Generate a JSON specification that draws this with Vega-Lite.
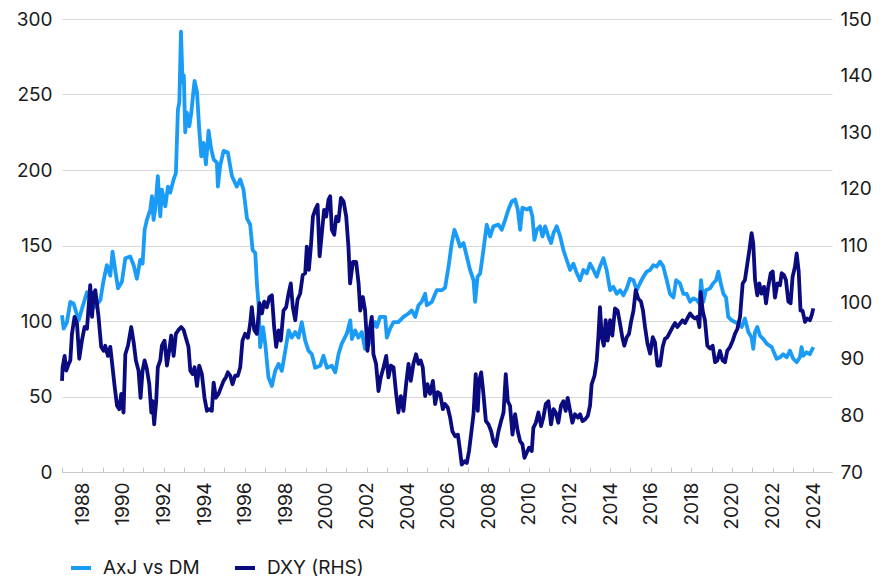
{
  "$schema": "https://vega.github.io/schema/vega-lite/v6.json",
  "width": 770,
  "height": 453,
  "autosize": {"type": "none"},
  "padding": {"left": 62, "top": 19, "right": 55, "bottom": 106},
  "background": "white",
  "config": {
    "font": "Inter",
    "view": {"stroke": null},
    "axis": {"labelFont": "Inter", "labelFontSize": 19, "labelColor": "#1a1a1a", "title": null},
    "legend": {"labelFont": "Inter", "labelFontSize": 19, "labelColor": "#1a1a1a"}
  },
  "datasets": {
    "axj": [
      {"t":1987.0,"v":103.8},{"t":1987.08,"v":95},{"t":1987.24,"v":99},{"t":1987.41,"v":112.7},{"t":1987.57,"v":111.6},{"t":1987.82,"v":100.4},{"t":1987.98,"v":108},{"t":1988.23,"v":119},{"t":1988.39,"v":115},{"t":1988.64,"v":109.3},{"t":1988.89,"v":114},{"t":1989.05,"v":127},{"t":1989.21,"v":137},{"t":1989.38,"v":130},{"t":1989.49,"v":146},{"t":1989.62,"v":134},{"t":1989.76,"v":121.6},{"t":1989.95,"v":126},{"t":1990.12,"v":141.6},{"t":1990.36,"v":142.7},{"t":1990.53,"v":137},{"t":1990.69,"v":128},{"t":1990.85,"v":140.4},{"t":1990.97,"v":138},{"t":1991.07,"v":160.4},{"t":1991.18,"v":167},{"t":1991.35,"v":173.8},{"t":1991.43,"v":182.7},{"t":1991.51,"v":167},{"t":1991.59,"v":173.8},{"t":1991.72,"v":196},{"t":1991.84,"v":169.3},{"t":1991.92,"v":187},{"t":1992.09,"v":176},{"t":1992.22,"v":189},{"t":1992.33,"v":185},{"t":1992.5,"v":193.8},{"t":1992.61,"v":198},{"t":1992.71,"v":240},{"t":1992.78,"v":245},{"t":1992.86,"v":291.6},{"t":1992.94,"v":258},{"t":1993.0,"v":262.7},{"t":1993.07,"v":225},{"t":1993.15,"v":238},{"t":1993.27,"v":229},{"t":1993.37,"v":238},{"t":1993.45,"v":249},{"t":1993.53,"v":259},{"t":1993.65,"v":251.6},{"t":1993.76,"v":227},{"t":1993.86,"v":209},{"t":1993.97,"v":218},{"t":1994.09,"v":203.8},{"t":1994.22,"v":226},{"t":1994.35,"v":213.8},{"t":1994.47,"v":207},{"t":1994.63,"v":204.9},{"t":1994.68,"v":189},{"t":1994.79,"v":202.7},{"t":1994.96,"v":212.7},{"t":1995.17,"v":211.6},{"t":1995.37,"v":196},{"t":1995.61,"v":189},{"t":1995.78,"v":193.8},{"t":1995.94,"v":187},{"t":1996.11,"v":168},{"t":1996.27,"v":163.8},{"t":1996.39,"v":147},{"t":1996.52,"v":145},{"t":1996.6,"v":125},{"t":1996.68,"v":111.6},{"t":1996.76,"v":82.7},{"t":1996.9,"v":96},{"t":1997.01,"v":85},{"t":1997.17,"v":62.7},{"t":1997.34,"v":57},{"t":1997.5,"v":67},{"t":1997.67,"v":71.6},{"t":1997.83,"v":67},{"t":1998.0,"v":80.4},{"t":1998.16,"v":93.8},{"t":1998.32,"v":89},{"t":1998.49,"v":92.7},{"t":1998.65,"v":89},{"t":1998.81,"v":99.3},{"t":1998.98,"v":87},{"t":1999.14,"v":80.4},{"t":1999.31,"v":78},{"t":1999.47,"v":69},{"t":1999.72,"v":70.4},{"t":1999.88,"v":77},{"t":2000.05,"v":69},{"t":2000.29,"v":70.4},{"t":2000.46,"v":66},{"t":2000.62,"v":78},{"t":2000.78,"v":85},{"t":2001.03,"v":91.6},{"t":2001.2,"v":100.4},{"t":2001.28,"v":88},{"t":2001.44,"v":93.8},{"t":2001.6,"v":89},{"t":2001.77,"v":92.7},{"t":2001.93,"v":81.6},{"t":2002.1,"v":83.8},{"t":2002.26,"v":95},{"t":2002.43,"v":99.3},{"t":2002.51,"v":96},{"t":2002.67,"v":102.7},{"t":2002.92,"v":102.7},{"t":2003.0,"v":89},{"t":2003.16,"v":95},{"t":2003.33,"v":99.3},{"t":2003.57,"v":99.3},{"t":2003.82,"v":102.7},{"t":2004.07,"v":105},{"t":2004.23,"v":107},{"t":2004.4,"v":102.7},{"t":2004.56,"v":110.4},{"t":2004.72,"v":112.7},{"t":2004.89,"v":118},{"t":2004.97,"v":110.4},{"t":2005.22,"v":112.7},{"t":2005.46,"v":120.4},{"t":2005.71,"v":120.4},{"t":2005.87,"v":122},{"t":2006.04,"v":136},{"t":2006.2,"v":151.6},{"t":2006.33,"v":160.4},{"t":2006.45,"v":156},{"t":2006.61,"v":149.3},{"t":2006.78,"v":151.6},{"t":2006.94,"v":142.7},{"t":2007.1,"v":133.8},{"t":2007.27,"v":127},{"t":2007.35,"v":112.7},{"t":2007.47,"v":129.3},{"t":2007.6,"v":131.6},{"t":2007.76,"v":147},{"t":2007.92,"v":163.8},{"t":2008.09,"v":156},{"t":2008.25,"v":162.7},{"t":2008.5,"v":163.8},{"t":2008.66,"v":160.4},{"t":2008.83,"v":167},{"t":2008.99,"v":173.8},{"t":2009.16,"v":179.3},{"t":2009.32,"v":180.4},{"t":2009.45,"v":173.8},{"t":2009.57,"v":160.4},{"t":2009.68,"v":175},{"t":2009.89,"v":173.8},{"t":2010.06,"v":175},{"t":2010.17,"v":169.3},{"t":2010.27,"v":153.8},{"t":2010.39,"v":160.4},{"t":2010.55,"v":162.7},{"t":2010.67,"v":156},{"t":2010.8,"v":162.7},{"t":2010.96,"v":156},{"t":2011.09,"v":151.6},{"t":2011.21,"v":158.2},{"t":2011.37,"v":162.7},{"t":2011.54,"v":156},{"t":2011.7,"v":147},{"t":2011.86,"v":140.4},{"t":2012.03,"v":133.8},{"t":2012.19,"v":138},{"t":2012.36,"v":131.6},{"t":2012.52,"v":127},{"t":2012.68,"v":133.8},{"t":2012.85,"v":131.6},{"t":2013.01,"v":138},{"t":2013.18,"v":133.8},{"t":2013.34,"v":129.3},{"t":2013.5,"v":136},{"t":2013.67,"v":141.6},{"t":2013.83,"v":133.8},{"t":2014.0,"v":120.4},{"t":2014.16,"v":122.7},{"t":2014.33,"v":118},{"t":2014.49,"v":120.4},{"t":2014.65,"v":117},{"t":2014.82,"v":121.6},{"t":2014.98,"v":128},{"t":2015.15,"v":127},{"t":2015.31,"v":120.4},{"t":2015.47,"v":125},{"t":2015.64,"v":129.3},{"t":2015.8,"v":132.7},{"t":2015.97,"v":133.8},{"t":2016.13,"v":137},{"t":2016.29,"v":136},{"t":2016.46,"v":139.3},{"t":2016.62,"v":136},{"t":2016.79,"v":127},{"t":2016.95,"v":118},{"t":2017.12,"v":115.6},{"t":2017.25,"v":127},{"t":2017.44,"v":125},{"t":2017.61,"v":118},{"t":2017.77,"v":118},{"t":2017.94,"v":112.7},{"t":2018.1,"v":115},{"t":2018.26,"v":114},{"t":2018.4,"v":111.6},{"t":2018.48,"v":127},{"t":2018.59,"v":112.7},{"t":2018.72,"v":120.4},{"t":2018.92,"v":121.6},{"t":2019.08,"v":125},{"t":2019.22,"v":127},{"t":2019.33,"v":132.7},{"t":2019.45,"v":125},{"t":2019.58,"v":118},{"t":2019.71,"v":115.6},{"t":2019.82,"v":102.7},{"t":2019.99,"v":100.4},{"t":2020.15,"v":99.3},{"t":2020.32,"v":98.2},{"t":2020.48,"v":96},{"t":2020.64,"v":101.6},{"t":2020.81,"v":92.7},{"t":2020.97,"v":89},{"t":2021.05,"v":81.6},{"t":2021.14,"v":92.7},{"t":2021.25,"v":96},{"t":2021.38,"v":90.4},{"t":2021.55,"v":88},{"t":2021.71,"v":85},{"t":2021.96,"v":82.7},{"t":2022.2,"v":75},{"t":2022.37,"v":76},{"t":2022.53,"v":78},{"t":2022.7,"v":76},{"t":2022.86,"v":80.4},{"t":2023.02,"v":75},{"t":2023.19,"v":72.7},{"t":2023.35,"v":76},{"t":2023.43,"v":82.7},{"t":2023.52,"v":77},{"t":2023.68,"v":79.3},{"t":2023.84,"v":78},{"t":2024.01,"v":82.7}
    ],
    "dxy": [
      {"t":1987.0,"v":86.1},{"t":1987.03,"v":88.5},{"t":1987.13,"v":90.5},{"t":1987.21,"v":87.9},{"t":1987.33,"v":89.1},{"t":1987.41,"v":89.7},{"t":1987.49,"v":94.4},{"t":1987.62,"v":97.4},{"t":1987.74,"v":96.2},{"t":1987.85,"v":90.0},{"t":1987.98,"v":93.2},{"t":1988.11,"v":95.6},{"t":1988.23,"v":95.3},{"t":1988.31,"v":99.1},{"t":1988.39,"v":103.0},{"t":1988.48,"v":97.4},{"t":1988.56,"v":101.5},{"t":1988.64,"v":102.1},{"t":1988.72,"v":99.8},{"t":1988.8,"v":97.4},{"t":1988.93,"v":92.1},{"t":1989.05,"v":91.4},{"t":1989.13,"v":92.3},{"t":1989.26,"v":90.5},{"t":1989.38,"v":92.1},{"t":1989.49,"v":88.5},{"t":1989.59,"v":85.2},{"t":1989.71,"v":81.7},{"t":1989.82,"v":81.1},{"t":1989.92,"v":83.8},{"t":1990.03,"v":80.5},{"t":1990.12,"v":90.8},{"t":1990.25,"v":92.3},{"t":1990.41,"v":95.6},{"t":1990.53,"v":92.9},{"t":1990.64,"v":89.7},{"t":1990.77,"v":87.9},{"t":1990.87,"v":83.1},{"t":1990.97,"v":87.9},{"t":1991.07,"v":89.7},{"t":1991.18,"v":88.2},{"t":1991.3,"v":85.5},{"t":1991.4,"v":80.5},{"t":1991.46,"v":82.5},{"t":1991.54,"v":78.4},{"t":1991.64,"v":82.5},{"t":1991.72,"v":88.5},{"t":1991.84,"v":89.7},{"t":1991.92,"v":92.3},{"t":1992.05,"v":93.2},{"t":1992.17,"v":88.8},{"t":1992.28,"v":91.4},{"t":1992.38,"v":94.1},{"t":1992.5,"v":90.5},{"t":1992.61,"v":94.4},{"t":1992.74,"v":95.1},{"t":1992.87,"v":95.6},{"t":1992.99,"v":95.1},{"t":1993.1,"v":93.7},{"t":1993.23,"v":92.1},{"t":1993.32,"v":87.9},{"t":1993.43,"v":87.3},{"t":1993.53,"v":88.5},{"t":1993.65,"v":85.2},{"t":1993.76,"v":88.8},{"t":1993.89,"v":87.3},{"t":1994.02,"v":83.1},{"t":1994.14,"v":80.8},{"t":1994.25,"v":81.1},{"t":1994.38,"v":80.8},{"t":1994.47,"v":85.8},{"t":1994.58,"v":83.1},{"t":1994.71,"v":83.8},{"t":1994.83,"v":84.9},{"t":1994.96,"v":86.1},{"t":1995.07,"v":86.7},{"t":1995.17,"v":87.6},{"t":1995.29,"v":87.0},{"t":1995.4,"v":85.5},{"t":1995.53,"v":87.0},{"t":1995.66,"v":87.0},{"t":1995.78,"v":88.5},{"t":1995.89,"v":93.2},{"t":1996.02,"v":94.4},{"t":1996.16,"v":93.7},{"t":1996.27,"v":96.2},{"t":1996.35,"v":99.1},{"t":1996.47,"v":95.1},{"t":1996.6,"v":94.4},{"t":1996.73,"v":99.8},{"t":1996.85,"v":98.0},{"t":1996.96,"v":100.1},{"t":1997.09,"v":99.1},{"t":1997.22,"v":100.9},{"t":1997.34,"v":101.2},{"t":1997.45,"v":95.6},{"t":1997.55,"v":92.1},{"t":1997.67,"v":95.0},{"t":1997.78,"v":93.2},{"t":1997.91,"v":98.5},{"t":1998.04,"v":99.1},{"t":1998.16,"v":101.5},{"t":1998.27,"v":103.3},{"t":1998.37,"v":99.1},{"t":1998.49,"v":96.8},{"t":1998.6,"v":100.4},{"t":1998.73,"v":101.5},{"t":1998.86,"v":104.8},{"t":1998.98,"v":105.1},{"t":1999.06,"v":109.8},{"t":1999.16,"v":105.7},{"t":1999.26,"v":109.8},{"t":1999.36,"v":115.1},{"t":1999.47,"v":116.3},{"t":1999.59,"v":117.2},{"t":1999.69,"v":108.1},{"t":1999.8,"v":112.2},{"t":1999.91,"v":116.3},{"t":2000.01,"v":115.1},{"t":2000.13,"v":118.1},{"t":2000.21,"v":118.7},{"t":2000.29,"v":112.8},{"t":2000.41,"v":111.9},{"t":2000.51,"v":115.1},{"t":2000.62,"v":114.3},{"t":2000.74,"v":118.4},{"t":2000.87,"v":117.8},{"t":2001.0,"v":115.1},{"t":2001.11,"v":109.8},{"t":2001.19,"v":103.3},{"t":2001.33,"v":107.1},{"t":2001.49,"v":107.1},{"t":2001.61,"v":103.3},{"t":2001.69,"v":98.5},{"t":2001.82,"v":100.9},{"t":2001.93,"v":98.5},{"t":2002.05,"v":91.4},{"t":2002.15,"v":95.0},{"t":2002.26,"v":97.4},{"t":2002.34,"v":90.8},{"t":2002.47,"v":89.1},{"t":2002.59,"v":84.3},{"t":2002.7,"v":86.7},{"t":2002.84,"v":88.5},{"t":2002.97,"v":90.5},{"t":2003.08,"v":86.7},{"t":2003.2,"v":88.8},{"t":2003.33,"v":88.5},{"t":2003.46,"v":83.8},{"t":2003.57,"v":80.5},{"t":2003.69,"v":83.4},{"t":2003.82,"v":80.8},{"t":2003.95,"v":85.5},{"t":2004.07,"v":89.1},{"t":2004.18,"v":86.1},{"t":2004.31,"v":89.1},{"t":2004.44,"v":90.8},{"t":2004.56,"v":89.1},{"t":2004.67,"v":89.7},{"t":2004.77,"v":88.5},{"t":2004.89,"v":83.4},{"t":2005.0,"v":85.5},{"t":2005.13,"v":83.8},{"t":2005.27,"v":86.1},{"t":2005.38,"v":82.0},{"t":2005.5,"v":84.1},{"t":2005.63,"v":83.8},{"t":2005.76,"v":81.1},{"t":2005.87,"v":82.0},{"t":2006.0,"v":81.4},{"t":2006.12,"v":79.6},{"t":2006.23,"v":77.2},{"t":2006.37,"v":76.3},{"t":2006.5,"v":76.6},{"t":2006.61,"v":73.7},{"t":2006.69,"v":71.3},{"t":2006.83,"v":71.9},{"t":2006.94,"v":71.6},{"t":2007.05,"v":73.7},{"t":2007.15,"v":76.6},{"t":2007.27,"v":80.2},{"t":2007.38,"v":87.3},{"t":2007.48,"v":80.8},{"t":2007.55,"v":86.1},{"t":2007.65,"v":87.6},{"t":2007.76,"v":83.8},{"t":2007.88,"v":79.0},{"t":2008.01,"v":78.4},{"t":2008.14,"v":77.2},{"t":2008.25,"v":75.4},{"t":2008.37,"v":74.6},{"t":2008.5,"v":77.2},{"t":2008.63,"v":79.0},{"t":2008.75,"v":80.5},{"t":2008.86,"v":87.3},{"t":2008.96,"v":82.5},{"t":2009.07,"v":81.7},{"t":2009.19,"v":76.6},{"t":2009.32,"v":80.2},{"t":2009.45,"v":77.2},{"t":2009.57,"v":75.4},{"t":2009.68,"v":74.9},{"t":2009.78,"v":72.5},{"t":2009.89,"v":73.4},{"t":2010.01,"v":74.3},{"t":2010.14,"v":73.7},{"t":2010.22,"v":77.8},{"t":2010.34,"v":78.7},{"t":2010.47,"v":80.5},{"t":2010.6,"v":78.1},{"t":2010.71,"v":79.6},{"t":2010.83,"v":82.0},{"t":2010.96,"v":82.5},{"t":2011.09,"v":78.4},{"t":2011.21,"v":81.1},{"t":2011.32,"v":80.5},{"t":2011.45,"v":78.7},{"t":2011.58,"v":81.7},{"t":2011.7,"v":82.5},{"t":2011.81,"v":80.8},{"t":2011.91,"v":83.1},{"t":2012.03,"v":80.8},{"t":2012.14,"v":78.7},{"t":2012.27,"v":80.2},{"t":2012.41,"v":79.6},{"t":2012.52,"v":80.2},{"t":2012.64,"v":79.0},{"t":2012.77,"v":79.3},{"t":2012.9,"v":79.9},{"t":2013.01,"v":81.7},{"t":2013.09,"v":85.5},{"t":2013.23,"v":87.0},{"t":2013.34,"v":89.7},{"t":2013.42,"v":93.8},{"t":2013.5,"v":99.1},{"t":2013.59,"v":93.8},{"t":2013.69,"v":92.3},{"t":2013.78,"v":96.8},{"t":2013.88,"v":93.2},{"t":2014.0,"v":96.8},{"t":2014.11,"v":94.1},{"t":2014.24,"v":98.9},{"t":2014.37,"v":98.5},{"t":2014.49,"v":96.2},{"t":2014.6,"v":93.8},{"t":2014.7,"v":92.3},{"t":2014.82,"v":93.8},{"t":2014.93,"v":94.4},{"t":2015.03,"v":96.5},{"t":2015.15,"v":98.5},{"t":2015.26,"v":102.1},{"t":2015.39,"v":100.6},{"t":2015.52,"v":100.1},{"t":2015.62,"v":98.5},{"t":2015.72,"v":95.6},{"t":2015.84,"v":92.7},{"t":2015.97,"v":90.9},{"t":2016.1,"v":93.8},{"t":2016.21,"v":92.9},{"t":2016.33,"v":88.8},{"t":2016.46,"v":88.8},{"t":2016.59,"v":92.1},{"t":2016.7,"v":93.5},{"t":2016.82,"v":93.8},{"t":2016.95,"v":94.7},{"t":2017.08,"v":95.6},{"t":2017.2,"v":96.3},{"t":2017.31,"v":95.6},{"t":2017.44,"v":96.2},{"t":2017.57,"v":96.8},{"t":2017.69,"v":96.3},{"t":2017.8,"v":97.1},{"t":2017.94,"v":98.0},{"t":2018.07,"v":97.4},{"t":2018.18,"v":97.1},{"t":2018.3,"v":97.4},{"t":2018.4,"v":95.6},{"t":2018.46,"v":101.8},{"t":2018.56,"v":98.5},{"t":2018.67,"v":96.8},{"t":2018.79,"v":92.3},{"t":2018.92,"v":91.8},{"t":2019.05,"v":92.3},{"t":2019.17,"v":89.4},{"t":2019.28,"v":89.7},{"t":2019.41,"v":91.4},{"t":2019.54,"v":89.7},{"t":2019.66,"v":89.4},{"t":2019.77,"v":91.4},{"t":2019.91,"v":92.1},{"t":2020.04,"v":93.2},{"t":2020.15,"v":94.4},{"t":2020.27,"v":95.3},{"t":2020.4,"v":97.4},{"t":2020.53,"v":103.3},{"t":2020.64,"v":103.9},{"t":2020.76,"v":106.8},{"t":2020.86,"v":109.2},{"t":2020.97,"v":112.2},{"t":2021.05,"v":110.4},{"t":2021.14,"v":103.9},{"t":2021.25,"v":101.2},{"t":2021.35,"v":103.3},{"t":2021.46,"v":101.5},{"t":2021.58,"v":102.7},{"t":2021.68,"v":99.8},{"t":2021.79,"v":102.7},{"t":2021.91,"v":105.1},{"t":2022.01,"v":105.4},{"t":2022.12,"v":100.8},{"t":2022.24,"v":103.3},{"t":2022.37,"v":103.0},{"t":2022.45,"v":105.1},{"t":2022.56,"v":104.8},{"t":2022.66,"v":103.9},{"t":2022.78,"v":100.1},{"t":2022.89,"v":99.8},{"t":2022.99,"v":104.5},{"t":2023.11,"v":106.3},{"t":2023.19,"v":108.6},{"t":2023.29,"v":105.4},{"t":2023.38,"v":98.5},{"t":2023.48,"v":98.5},{"t":2023.6,"v":96.5},{"t":2023.71,"v":97.1},{"t":2023.84,"v":96.8},{"t":2023.93,"v":97.7},{"t":2024.01,"v":98.9}
    ]
  },
  "encoding": {
    "x": {
      "field": "t",
      "type": "quantitative",
      "scale": {"domain": [1987, 2024.93], "nice": false, "zero": false},
      "axis": {
        "values": [1987,1988,1989,1990,1991,1992,1993,1994,1995,1996,1997,1998,1999,2000,2001,2002,2003,2004,2005,2006,2007,2008,2009,2010,2011,2012,2013,2014,2015,2016,2017,2018,2019,2020,2021,2022,2023,2024],
        "labelExpr": "datum.value % 2 == 0 ? '' + datum.value : ''",
        "labelAngle": -90,
        "labelAlign": "right",
        "labelBaseline": "middle",
        "labelOverlap": false,
        "labelFlush": false,
        "labelPadding": 15,
        "grid": false,
        "domain": true,
        "domainColor": "#c8c8c8",
        "domainWidth": 1,
        "ticks": true,
        "tickSize": -5,
        "tickColor": "#c8c8c8",
        "tickWidth": 1
      }
    }
  },
  "layer": [
    {
      "data": {"name": "axj"},
      "mark": {"type": "line", "strokeWidth": 3.8, "strokeJoin": "round", "strokeCap": "butt"},
      "encoding": {
        "y": {
          "field": "v",
          "type": "quantitative",
          "scale": {"domain": [0, 300], "nice": false, "zero": false},
          "axis": {
            "orient": "left",
            "values": [0, 50, 100, 150, 200, 250, 300],
            "grid": true,
            "gridColor": "#d9d9d9",
            "gridWidth": 1,
            "domain": false,
            "ticks": false,
            "labelPadding": 10
          }
        },
        "color": {
          "datum": "AxJ vs DM",
          "type": "nominal",
          "scale": {"domain": ["AxJ vs DM", "DXY (RHS)"], "range": ["#1a9bf6", "#0b0b80"]},
          "legend": {
            "orient": "none",
            "legendX": 7,
            "legendY": 537,
            "direction": "horizontal",
            "title": null,
            "symbolType": "stroke",
            "symbolSize": 400,
            "symbolStrokeWidth": 4,
            "labelOffset": 10,
            "columnPadding": 27,
            "padding": 0
          }
        }
      }
    },
    {
      "data": {"name": "dxy"},
      "mark": {"type": "line", "strokeWidth": 3.8, "strokeJoin": "round", "strokeCap": "butt"},
      "encoding": {
        "y": {
          "field": "v",
          "type": "quantitative",
          "scale": {"domain": [70, 150], "nice": false, "zero": false},
          "axis": {
            "orient": "right",
            "values": [70, 80, 90, 100, 110, 120, 130, 140, 150],
            "grid": false,
            "domain": false,
            "ticks": false,
            "labelPadding": 8
          }
        },
        "color": {"datum": "DXY (RHS)", "type": "nominal"}
      }
    }
  ],
  "resolve": {"scale": {"y": "independent"}}
}
